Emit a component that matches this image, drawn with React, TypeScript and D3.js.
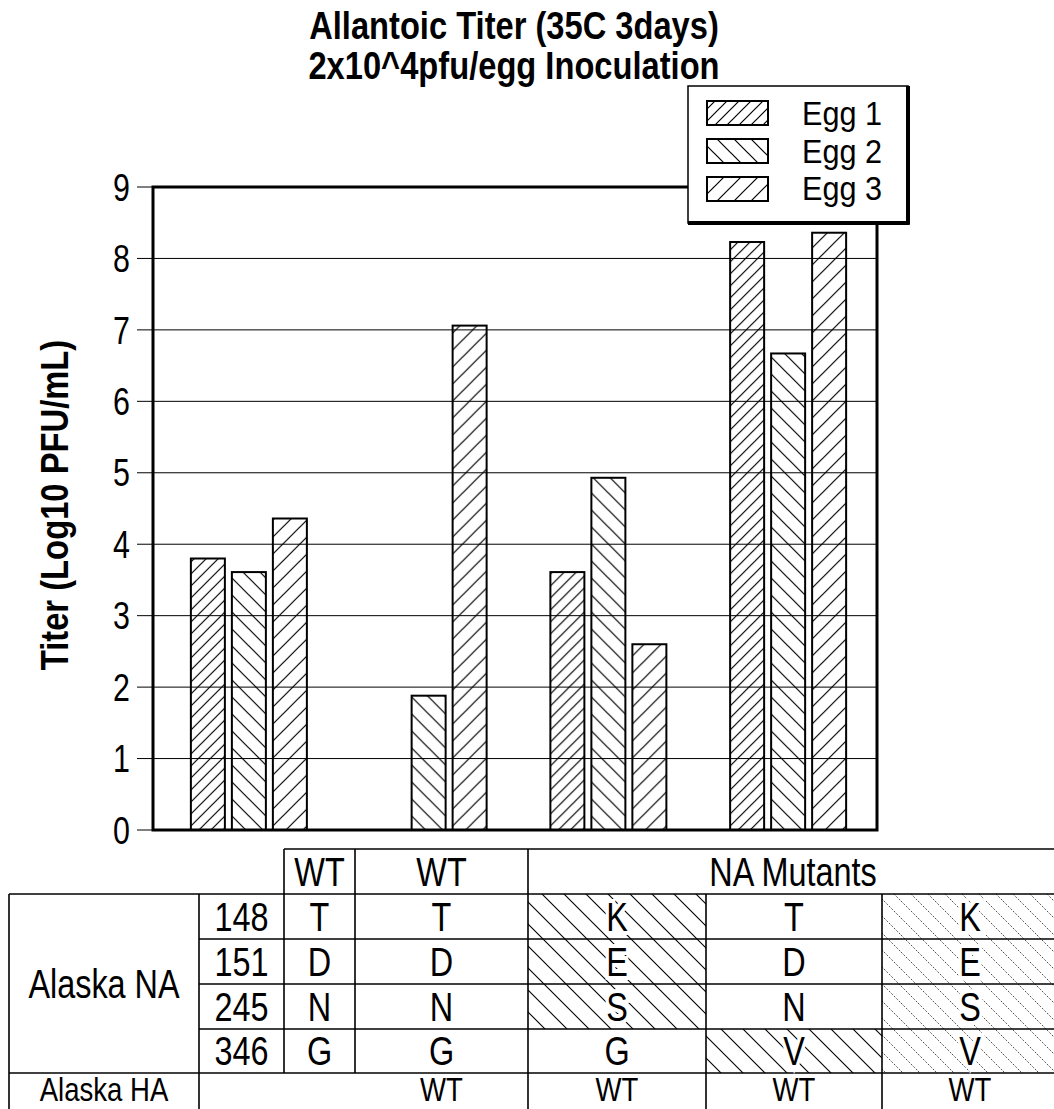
import React from "react";
import * as d3 from "d3";

const groups = ["WT-1", "WT-2", "Mut-1", "Mut-2"];
const eggs = ["Egg 1", "Egg 2", "Egg 3"];
const egg1Values = [3.8, 0, 3.61, 8.23];
const egg2Values = [3.61, 1.88, 4.93, 6.67];
const egg3Values = [4.36, 7.06, 2.6, 8.36];
const yTicks = [0, 1, 2, 3, 4, 5, 6, 7, 8, 9];

const titleLines = ["Allantoic Titer (35C 3days)", "2x10^4pfu/egg Inoculation"];
const yLabel = "Titer (Log10 PFU/mL)";

const positions = ["148", "151", "245", "346"];
const wt1Residues = ["T", "D", "N", "G"];
const wt2Residues = ["T", "D", "N", "G"];
const mut1Residues = ["K", "E", "S", "G"];
const mut2Residues = ["T", "D", "N", "V"];
const mut3Residues = ["K", "E", "S", "V"];
const mut1Hatched = [true, true, true, false];
const mut2Hatched = [false, false, false, true];
const mut3Hatched = [true, true, true, true];
const haValues = ["", "WT", "WT", "WT", "WT"];

const FONT = "Liberation Sans, Arial, sans-serif";

function NText({ x, y, size, sx = 0.81, anchor = "middle", weight = "normal", rotate = 0, halo = false, children }: any) {
  return (
    <text
      transform={`translate(${x},${y})${rotate ? ` rotate(${rotate})` : ""} scale(${sx},1)`}
      textAnchor={anchor}
      fontSize={size}
      fontWeight={weight}
      fontFamily={FONT}
      fill="#000"
      stroke={halo ? "#fff" : "none"}
      strokeWidth={halo ? 8 : 0}
      style={{ paintOrder: "stroke" } as any}
    >
      {children}
    </text>
  );
}

function hatchPath(p: number, dir: "/" | "\\") {
  if (dir === "/") {
    return `M0,${p} L${p},0 M${-p / 2},${p / 2} L${p / 2},${-p / 2} M${p / 2},${1.5 * p} L${1.5 * p},${p / 2}`;
  }
  return `M0,0 L${p},${p} M${-p / 2},${p / 2} L${p / 2},${1.5 * p} M${p / 2},${-p / 2} L${1.5 * p},${p / 2}`;
}

export default function App() {
  const W = 1054, H = 1109;
  const plot = { left: 153, right: 877, top: 187, bottom: 830 };
  const y = d3.scaleLinear().domain([0, 9]).range([plot.bottom, plot.top]);
  const x0 = d3.scaleBand().domain(groups).range([159, 878]).padding(0);
  const x1 = d3.scaleBand().domain(eggs).range([-58, 58]).paddingInner(7 / 41).paddingOuter(0);
  const seriesValues = [egg1Values, egg2Values, egg3Values];
  const patternIds = ["pEgg1", "pEgg2", "pEgg3"];

  // table layout
  const colX = [9, 199, 284, 355, 528, 706, 882, 1058];
  const rowY = [849, 894, 939, 984, 1029, 1073, 1118];
  const tSize = 40;
  const rc = (i: number) => (rowY[i] + rowY[i + 1]) / 2 + tSize * 0.36;
  const haBase = 1101;
  const haSize = 34;
  const cc = (i: number, j = i) => (colX[i] + colX[j + 1]) / 2;
  const line = (x1_: number, y1: number, x2: number, y2: number, key: string) => (
    <line key={key} x1={x1_} y1={y1} x2={x2} y2={y2} stroke="#000" strokeWidth={1.6} />
  );

  const residueCols = [
    { col: 2, res: wt1Residues, hatch: null },
    { col: 3, res: wt2Residues, hatch: null },
    { col: 4, res: mut1Residues, hatch: mut1Hatched, pid: "tHatchA" },
    { col: 5, res: mut2Residues, hatch: mut2Hatched, pid: "tHatchA" },
    { col: 6, res: mut3Residues, hatch: mut3Hatched, pid: "tHatchB" },
  ];

  const legend = { x: 688, y: 86, w: 220, h: 137 };

  return (
    <svg width={W} height={H} style={{ position: "absolute", left: 0, top: 0, background: "#fff" }}>
      <defs>
        <pattern id="pEgg1" patternUnits="userSpaceOnUse" width={12} height={12}>
          <path d={hatchPath(12, "/")} stroke="#000" strokeWidth={1.2} />
        </pattern>
        <pattern id="pEgg2" patternUnits="userSpaceOnUse" width={17} height={17}>
          <path d={hatchPath(17, "\\")} stroke="#000" strokeWidth={1.2} />
        </pattern>
        <pattern id="pEgg3" patternUnits="userSpaceOnUse" width={17} height={17}>
          <path d={hatchPath(17, "/")} stroke="#000" strokeWidth={1.2} />
        </pattern>
        <pattern id="tHatchA" patternUnits="userSpaceOnUse" width={22} height={22}>
          <path d={hatchPath(22, "\\")} stroke="#000" strokeWidth={1.1} />
        </pattern>
        <pattern id="tHatchB" patternUnits="userSpaceOnUse" width={17} height={17}>
          <path d={hatchPath(17, "\\")} stroke="#555" strokeWidth={1} strokeDasharray="2,1.5" />
        </pattern>
      </defs>
      <rect x={0} y={0} width={W} height={H} fill="#fff" />

      {/* Title */}
      <NText x={514} y={39} size={38} sx={0.86} weight="bold">{titleLines[0]}</NText>
      <NText x={514} y={79} size={38} sx={0.86} weight="bold">{titleLines[1]}</NText>

      {/* Y label */}
      <NText x={68} y={505} size={39} sx={0.84} weight="bold" rotate={-90}>{yLabel}</NText>

      {/* gridlines */}
      {yTicks.filter((t) => t > 0 && t < 9).map((t) => (
        <line key={"g" + t} x1={plot.left} x2={plot.right} y1={y(t)} y2={y(t)} stroke="#000" strokeWidth={1} />
      ))}
      {/* ticks and labels */}
      {yTicks.map((t) => (
        <g key={"t" + t}>
          <line x1={137} x2={plot.left} y1={y(t)} y2={y(t)} stroke="#000" strokeWidth={1} />
          <NText x={130} y={y(t) + 38 * 0.36} size={38} sx={0.8} anchor="end">{String(t)}</NText>
        </g>
      ))}

      {/* bars */}
      {groups.map((g, gi) => (
        <g key={g} transform={`translate(${(x0(g) as number) + x0.bandwidth() / 2},0)`}>
          {eggs.map((e, ei) => {
            const v = seriesValues[ei][gi];
            if (!v) return null;
            return (
              <rect
                key={e}
                x={x1(e)}
                y={y(v)}
                width={x1.bandwidth()}
                height={y(0) - y(v)}
                fill={`url(#${patternIds[ei]})`}
                stroke="#000"
                strokeWidth={2}
              />
            );
          })}
        </g>
      ))}

      {/* frame */}
      <rect x={plot.left} y={plot.top} width={plot.right - plot.left} height={plot.bottom - plot.top} fill="none" stroke="#000" strokeWidth={3} />

      {/* legend */}
      <rect x={legend.x} y={legend.y} width={legend.w} height={legend.h} fill="#fff" stroke="#000" strokeWidth={1.5} />
      <line x1={legend.x + legend.w} x2={legend.x + legend.w} y1={legend.y} y2={legend.y + legend.h + 1.5} stroke="#000" strokeWidth={4} />
      <line x1={legend.x} x2={legend.x + legend.w + 1.5} y1={legend.y + legend.h} y2={legend.y + legend.h} stroke="#000" strokeWidth={4} />
      {eggs.map((e, ei) => (
        <g key={"lg" + e}>
          <rect x={707} y={101 + ei * 38} width={61} height={24} fill={`url(#${patternIds[ei]})`} stroke="#000" strokeWidth={2} />
          <NText x={802} y={125 + ei * 37.5} size={34} sx={0.9} anchor="start">{e}</NText>
        </g>
      ))}

      {/* table: hatched cells */}
      {residueCols.map((c) =>
        c.hatch
          ? c.res.map((r, ri) =>
              c.hatch![ri] ? (
                <rect key={`h${c.col}-${ri}`} x={colX[c.col]} y={rowY[ri + 1]} width={colX[c.col + 1] - colX[c.col]} height={rowY[ri + 2] - rowY[ri + 1]} fill={`url(#${c.pid})`} />
              ) : null
            )
          : null
      )}

      {/* table lines */}
      {line(colX[2], rowY[0], colX[7], rowY[0], "h0")}
      {line(colX[0], rowY[1], colX[7], rowY[1], "h1")}
      {line(colX[1], rowY[2], colX[7], rowY[2], "h2")}
      {line(colX[1], rowY[3], colX[7], rowY[3], "h3")}
      {line(colX[1], rowY[4], colX[7], rowY[4], "h4")}
      {line(colX[0], rowY[5], colX[7], rowY[5], "h5")}
      {line(colX[0], rowY[1], colX[0], rowY[6], "v0")}
      {line(colX[1], rowY[1], colX[1], rowY[6], "v1")}
      {line(colX[2], rowY[0], colX[2], rowY[5], "v2")}
      {line(colX[3], rowY[0], colX[3], rowY[5], "v3")}
      {line(colX[4], rowY[0], colX[4], rowY[6], "v4")}
      {line(colX[5], rowY[1], colX[5], rowY[6], "v5")}
      {line(colX[6], rowY[1], colX[6], rowY[6], "v6")}

      {/* table header */}
      <NText x={cc(2)} y={rc(0)} size={tSize}>WT</NText>
      <NText x={cc(3)} y={rc(0)} size={tSize}>WT</NText>
      <NText x={cc(4, 6)} y={rc(0)} size={tSize}>NA Mutants</NText>

      {/* row labels */}
      <NText x={cc(0)} y={(rowY[1] + rowY[5]) / 2 + tSize * 0.36} size={tSize}>Alaska NA</NText>
      {positions.map((p, i) => (
        <NText key={"p" + p} x={cc(1)} y={rc(i + 1)} size={tSize}>{p}</NText>
      ))}
      {residueCols.map((c) =>
        c.res.map((r, ri) => (
          <NText key={`r${c.col}-${ri}`} x={cc(c.col)} y={rc(ri + 1)} size={tSize} halo={!!(c.hatch && c.hatch[ri])}>{r}</NText>
        ))
      )}
      <NText x={cc(0)} y={haBase} size={haSize}>Alaska HA</NText>
      {haValues.map((v, i) => (v ? <NText key={"ha" + i} x={cc(i + 2)} y={haBase} size={haSize}>{v}</NText> : null))}
    </svg>
  );
}
